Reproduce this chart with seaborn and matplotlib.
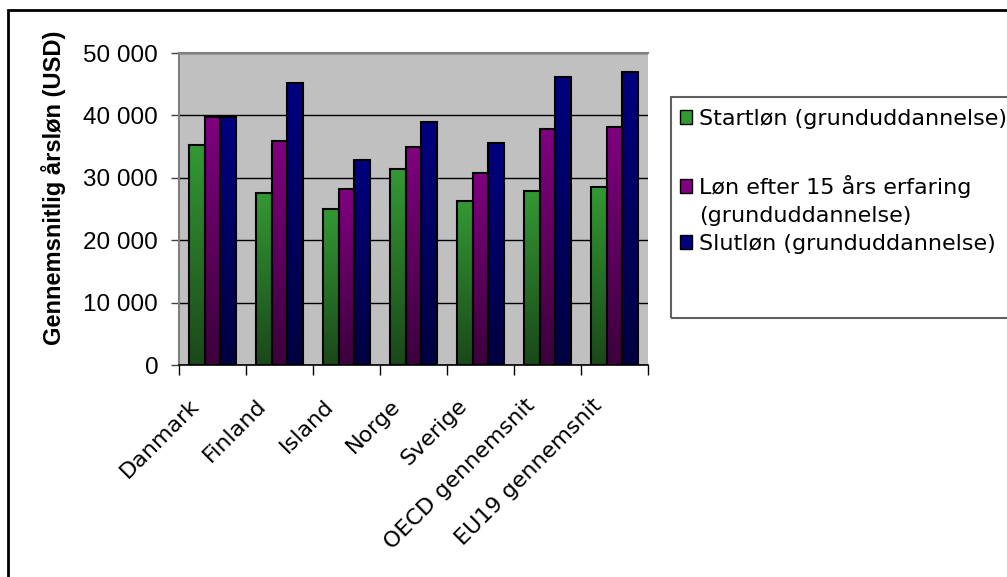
import numpy as np
import pandas as pd
import seaborn as sns
import matplotlib.pyplot as plt
from matplotlib.colors import LinearSegmentedColormap
from matplotlib.patches import Patch, Rectangle
from matplotlib.transforms import ScaledTranslation

# data
countries = ['Danmark', 'Finland', 'Island', 'Norge', 'Sverige',
             'OECD gennemsnit', 'EU19 gennemsnit']
start_salary = [35300, 27600, 25000, 31400, 26300, 27900, 28600]
salary_15yrs = [39700, 35900, 28200, 35000, 30800, 37900, 38200]
end_salary = [39700, 45200, 32800, 38900, 35600, 46200, 46900]
series_names = ['Startløn (grunduddannelse)',
                'Løn efter 15 års erfaring',
                'Slutløn (grunduddannelse)']
y_ticks = [0, 10000, 20000, 30000, 40000, 50000]

df = pd.DataFrame({
    'land': countries * 3,
    'serie': [s for s in series_names for _ in countries],
    'loen': start_salary + salary_15yrs + end_salary,
})

top_colors = ['#339933', '#800080', '#000080']
bottom_colors = ['#1a481a', '#3c003c', '#000040']

sns.set_theme(style='white')
plt.rcParams['font.family'] = ['DejaVu Sans']
plt.rcParams['text.color'] = 'black'
plt.rcParams['xtick.color'] = 'black'
plt.rcParams['ytick.color'] = 'black'

fig = plt.figure(figsize=(10.07, 5.77), dpi=100)
ax = fig.add_axes([179 / 1007, 1 - 365 / 577, 469 / 1007, 312 / 577])
ax.set_facecolor('#c0c0c0')

sns.barplot(data=df, x='land', y='loen', hue='serie', hue_order=series_names,
            palette=top_colors, width=0.7, edgecolor='black', linewidth=1.5,
            saturation=1, ax=ax, legend=False, zorder=3)

# gradient fill for each bar (bright on top, dark at the bottom)
grad = np.linspace(0, 1, 256).reshape(-1, 1)
n = len(countries)
for i, bar in enumerate(ax.patches[:3 * n]):
    k = i // n
    cmap = LinearSegmentedColormap.from_list('g%d' % k, [bottom_colors[k], top_colors[k]])
    x0, y0 = bar.get_x(), bar.get_y()
    w, h = bar.get_width(), bar.get_height()
    img = ax.imshow(grad, cmap=cmap, origin='lower', aspect='auto',
                    extent=[x0, x0 + w, y0, y0 + h], zorder=2.5)
    img.set_clip_path(bar)
    bar.set_facecolor('none')
ax.set_xlim(-0.5, n - 0.5)
ax.set_ylim(0, 50000)
ax.set_aspect('auto')

# grid and spines
ax.set_yticks(y_ticks)
ax.set_yticklabels([f'{v:,}'.replace(',', ' ') for v in y_ticks],
                   fontfamily='Liberation Sans', fontsize=17.5)
ax.yaxis.grid(True, color='black', linewidth=1)
ax.set_axisbelow(True)
for side in ['left', 'top']:
    ax.spines[side].set_color('#808080')
    ax.spines[side].set_linewidth(1.5)
ax.spines['right'].set_visible(False)
ax.spines['bottom'].set_color('black')
ax.spines['bottom'].set_linewidth(1.2)
ax.tick_params(axis='y', left=True, length=6, width=1, color='#404040', pad=9)

ax.set_xticks(range(n))
ax.set_xticks(np.arange(-0.5, n, 1), minor=True)
ax.tick_params(axis='x', which='major', bottom=False, pad=24)
ax.tick_params(axis='x', which='minor', bottom=True, length=7, width=1, color='black')
ax.set_xticklabels(countries, rotation=45, ha='right', va='baseline',
                   rotation_mode='anchor', fontsize=16)
shift = ScaledTranslation(-12 / 100, 0, fig.dpi_scale_trans)
for lab in ax.get_xticklabels():
    lab.set_transform(lab.get_transform() + shift)
ax.set_xlabel('')
ax.set_ylabel('')

fig.text(54 / 1007, 1 - 188 / 577, 'Gennemsnitlig årsløn (USD)', rotation=90,
         ha='center', va='center', fontfamily='Liberation Sans',
         fontweight='bold', fontsize=17)

# outer chart frame and legend frame
fig.patches.append(Rectangle((8 / 1007, -0.05), 1.05, 1 - 10 / 577 + 0.05,
                             transform=fig.transFigure, fill=False,
                             edgecolor='black', linewidth=2))
fig.patches.append(Rectangle((671 / 1007, 1 - 318 / 577), 0.4, 221 / 577,
                             transform=fig.transFigure, fill=False,
                             edgecolor='#606060', linewidth=1.5))

leg_kw = dict(loc='upper left', frameon=False, fontsize=16, borderpad=0,
              borderaxespad=0, handlelength=0.56, handleheight=0.56,
              handletextpad=0.3, labelspacing=0.36)
fig.legend([Patch(facecolor=top_colors[0], edgecolor='black')], [series_names[0]],
           bbox_to_anchor=(680 / 1007, 1 - 109 / 577), **leg_kw)
fig.legend([Patch(facecolor=top_colors[1], edgecolor='black'),
            Patch(facecolor='none', edgecolor='none'),
            Patch(facecolor=top_colors[2], edgecolor='black')],
           [series_names[1], '(grunduddannelse)', series_names[2]],
           bbox_to_anchor=(680 / 1007, 1 - 175 / 577), **leg_kw)

fig.savefig('out.png', dpi=100)
